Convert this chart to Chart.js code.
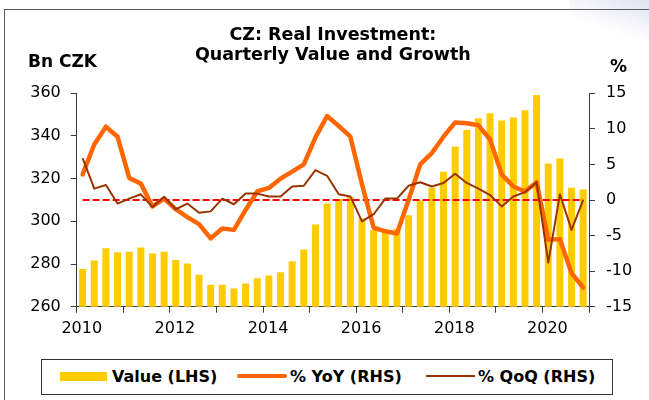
<!DOCTYPE html>
<html>
<head>
<meta charset="utf-8">
<script src="https://cdn.jsdelivr.net/npm/chart.js@4/dist/chart.umd.min.js"></script>
<style>
  html, body { margin: 0; padding: 0; background: #fff; }
  #wrap { position: relative; width: 649px; height: 400px; overflow: hidden; background: #fff; }
  #glow { position: absolute; right: 0; top: 0; width: 80px; height: 40px;
          background: linear-gradient(200deg, #e2e2f2 0%, rgba(255,255,255,0) 65%); }
  #frame { position: absolute; left: 4px; top: 9px; right: -5px; bottom: -5px;
           border-left: 1px solid #5a5a5a; border-top: 1px solid #5a5a5a; }
  #cv { position: absolute; left: 0; top: 0; }
  #legend { position: absolute; left: 41px; top: 359px; width: 572px; height: 36px;
            box-sizing: border-box; border: 1px solid #333; background: #fff; }
  #legend .sw { position: absolute; }
  #legend .tx { position: absolute; top: 7px; line-height: 19px; font: bold 16px "DejaVu Sans"; color: #000; white-space: nowrap; }
</style>
</head>
<body>
<div id="wrap">
  <div id="glow"></div>
  <div id="frame"></div>
  <canvas id="cv" width="649" height="400"></canvas>
  <div id="legend"></div>
</div>
<script>
// ---- Data ----
const years = [2010, 2011, 2012, 2013, 2014, 2015, 2016, 2017, 2018, 2019, 2020];
const quarters = ['Q1', 'Q2', 'Q3', 'Q4'];
const categories = years.flatMap(y => quarters.map(q => y + ' ' + q));

const valueBnCZK = [
  277.7, 281.6, 287.4, 285.5,
  285.8, 287.7, 284.9, 285.8,
  281.9, 280.3, 275.0, 270.3,
  270.3, 268.5, 270.9, 273.3,
  274.6, 276.1, 281.3, 286.8,
  298.5, 308.4, 310.5, 311.5,
  301.5, 296.0, 294.5, 296.5,
  302.8, 309.6, 315.7, 323.2,
  335.1, 342.8, 348.3, 350.6,
  347.3, 348.7, 352.0, 359.2,
  327.1, 329.5, 315.7, 314.9
];
const yoyPct = [
  3.6, 7.8, 10.3, 8.9,
  3.1, 2.3, -0.9, 0.2,
  -1.3, -2.4, -3.4, -5.4,
  -4.0, -4.2, -1.4, 1.2,
  1.7, 3.0, 4.0, 5.0,
  8.8, 11.8, 10.4, 8.9,
  2.2, -3.9, -4.4, -4.7,
  0.0, 5.0, 6.6, 8.9,
  10.9, 10.8, 10.5, 8.5,
  3.6, 1.9, 1.2, 2.5,
  -5.6, -5.5, -10.3, -12.3
];
const qoqPct = [
  5.9, 1.6, 2.1, -0.5,
  0.2, 0.8, -1.0, 0.45,
  -1.3, -0.5, -1.8, -1.6,
  0.2, -0.6, 0.9, 0.9,
  0.5, 0.5, 1.9, 2.0,
  4.2, 3.4, 0.8, 0.5,
  -3.0, -2.0, 0.2, 0.2,
  2.0, 2.5, 1.9, 2.4,
  3.7, 2.4, 1.6, 0.7,
  -0.9, 0.5, 1.1, 2.5,
  -8.8, 0.8, -4.2, 0.0
];
const zeroLine = categories.map(() => 0);

const xTickLabels = ['2010', '2012', '2014', '2016', '2018', '2020'];
const leftTicks = [260, 280, 300, 320, 340, 360];
const rightTicks = [-15, -10, -5, 0, 5, 10, 15];

const titleLines = ['CZ: Real Investment:', 'Quarterly Value and Growth'];
const leftUnit = 'Bn CZK';
const rightUnit = '%';
const seriesNames = ['Value (LHS)', '% YoY (RHS)', '% QoQ (RHS)'];

// ---- Helpers ----
const xPos = i => 2010 + i * 0.25 + 0.125;   // middle of the quarter on the year axis
const toPts = arr => arr.map((v, i) => ({ x: xPos(i), y: v }));

const axisColor = '#3a3a3a';
const tickFont = { family: 'DejaVu Sans', size: 16 };

const unitLabels = {
  id: 'unitLabels',
  afterDraw(chart) {
    const ctx = chart.ctx;
    ctx.save();
    ctx.font = 'bold 17px "DejaVu Sans"';
    ctx.fillStyle = '#000';
    ctx.textBaseline = 'alphabetic';
    ctx.textAlign = 'left';
    ctx.fillText(leftUnit, 28, 67);
    ctx.fillText(rightUnit, 610, 72);
    ctx.restore();
  }
};

const chart = new Chart(document.getElementById('cv'), {
  type: 'bar',
  data: {
    datasets: [
      {
        type: 'bar', label: seriesNames[0], data: toPts(valueBnCZK), yAxisID: 'y',
        backgroundColor: '#FFCC00', borderWidth: 0,
        barPercentage: 0.6, categoryPercentage: 1.0, order: 4
      },
      {
        type: 'line', label: 'zero', data: toPts(zeroLine), yAxisID: 'y1',
        borderColor: '#FF0000', borderWidth: 2, borderDash: [7, 3],
        pointRadius: 0, tension: 0, fill: false, order: 3
      },
      {
        type: 'line', label: seriesNames[1], data: toPts(yoyPct), yAxisID: 'y1',
        borderColor: '#FF6600', borderWidth: 4.5, pointRadius: 0, tension: 0,
        borderJoinStyle: 'round', borderCapStyle: 'round', fill: false, order: 2
      },
      {
        type: 'line', label: seriesNames[2], data: toPts(qoqPct), yAxisID: 'y1',
        borderColor: '#993300', borderWidth: 2, pointRadius: 0, tension: 0,
        borderJoinStyle: 'round', fill: false, order: 1
      }
    ]
  },
  options: {
    responsive: false,
    animation: false,
    events: [],
    layout: { padding: 0 },
    plugins: {
      legend: { display: false },
      tooltip: { enabled: false },
      title: {
        display: true,
        fullSize: false,
        text: titleLines,
        color: '#000',
        font: { family: 'DejaVu Sans', size: 17.5, weight: 'bold', lineHeight: 20 / 17.5 },
        padding: { top: 25.5, bottom: 27.8 }
      }
    },
    scales: {
      x: {
        type: 'linear',
        min: 2010, max: 2021,
        offset: false,
        grid: { display: true, drawOnChartArea: false, drawTicks: true, tickLength: 6, color: axisColor, offset: false },
        border: { display: true, color: axisColor, width: 1 },
        ticks: {
          stepSize: 1, autoSkip: false, maxRotation: 0, minRotation: 0,
          padding: 7, labelOffset: 5, color: '#000', font: tickFont,
          callback: v => (xTickLabels.includes(String(v)) ? String(v) : '')
        },
        afterFit: s => { s.height = 93.3; }
      },
      y: {
        position: 'left',
        min: leftTicks[0], max: leftTicks[leftTicks.length - 1],
        grid: { display: true, drawOnChartArea: false, drawTicks: true, tickLength: 6, color: axisColor },
        border: { display: true, color: axisColor, width: 1 },
        ticks: { stepSize: leftTicks[1] - leftTicks[0], padding: 10, color: '#000', font: tickFont },
        afterFit: s => { s.width = 76.8; }
      },
      y1: {
        position: 'right',
        min: rightTicks[0], max: rightTicks[rightTicks.length - 1],
        grid: { display: true, drawOnChartArea: false, drawTicks: true, tickLength: 6, color: axisColor },
        border: { display: true, color: axisColor, width: 1 },
        ticks: { stepSize: rightTicks[1] - rightTicks[0], padding: 11, color: '#000', font: tickFont },
        afterFit: s => { s.width = 60; }
      }
    }
  },
  plugins: [unitLabels]
});

// ---- HTML legend built from the datasets ----
(function buildLegend() {
  const lg = document.getElementById('legend');
  const ds = chart.data.datasets;
  const items = [
    { d: ds[0], sw: { left: 18, top: 12, width: 47, height: 9 }, tx: 70 },
    { d: ds[2], sw: { left: 195, top: 14, width: 50, height: 4 }, tx: 248 },
    { d: ds[3], sw: { left: 384, top: 15, width: 49, height: 2 }, tx: 436 }
  ];
  items.forEach((it, k) => {
    const s = document.createElement('div');
    s.className = 'sw';
    s.style.left = it.sw.left + 'px';
    s.style.top = it.sw.top + 'px';
    s.style.width = it.sw.width + 'px';
    s.style.height = it.sw.height + 'px';
    s.style.background = k === 0 ? it.d.backgroundColor : it.d.borderColor;
    if (k === 1) s.style.borderRadius = '2px';
    lg.appendChild(s);
    const t = document.createElement('div');
    t.className = 'tx';
    t.style.left = it.tx + 'px';
    t.textContent = it.d.label;
    lg.appendChild(t);
  });
})();
</script>
</body>
</html>
